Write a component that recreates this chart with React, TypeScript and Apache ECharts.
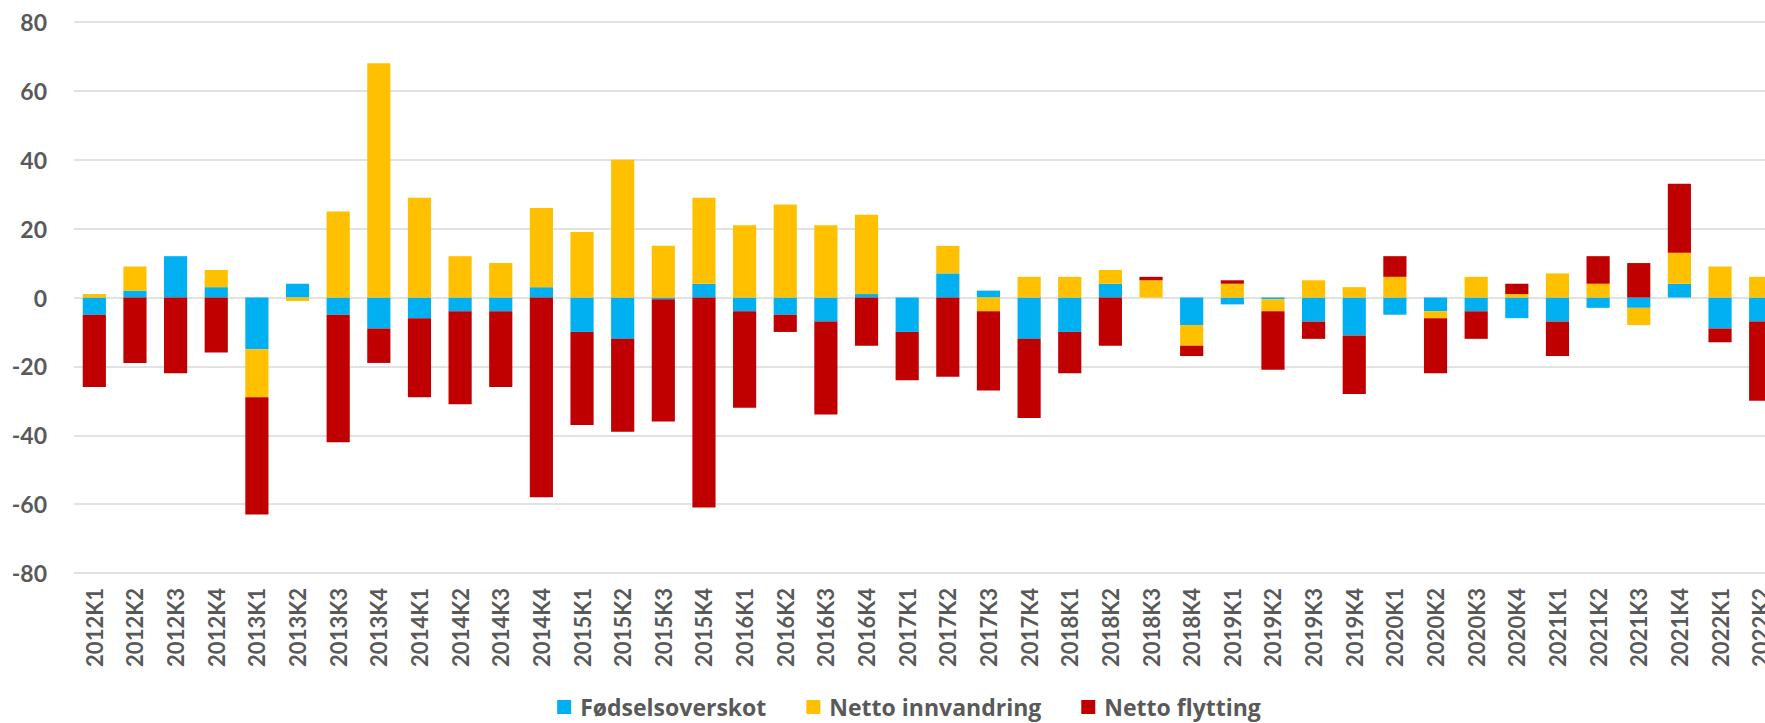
import React, { useEffect, useRef } from "react";
import * as echarts from "echarts";

const categories = [
  "2012K1", "2012K2", "2012K3", "2012K4",
  "2013K1", "2013K2", "2013K3", "2013K4",
  "2014K1", "2014K2", "2014K3", "2014K4",
  "2015K1", "2015K2", "2015K3", "2015K4",
  "2016K1", "2016K2", "2016K3", "2016K4",
  "2017K1", "2017K2", "2017K3", "2017K4",
  "2018K1", "2018K2", "2018K3", "2018K4",
  "2019K1", "2019K2", "2019K3", "2019K4",
  "2020K1", "2020K2", "2020K3", "2020K4",
  "2021K1", "2021K2", "2021K3", "2021K4",
  "2022K1", "2022K2",
];

const fodselsoverskot = [
  -5, 2, 12, 3,
  -15, 4, -5, -9,
  -6, -4, -4, 3,
  -10, -12, -0.5, 4,
  -4, -5, -7, 1,
  -10, 7, 2, -12,
  -10, 4, 0, -8,
  -2, -0.5, -7, -11,
  -5, -4, -4, -6,
  -7, -3, -3, 4,
  -9, -7,
];

const nettoInnvandring = [
  1, 7, 0, 5,
  -14, -1, 25, 68,
  29, 12, 10, 23,
  19, 40, 15, 25,
  21, 27, 21, 23,
  0, 8, -4, 6,
  6, 4, 5, -6,
  4, -3.5, 5, 3,
  6, -2, 6, 1,
  7, 4, -5, 9,
  9, 6,
];

const nettoFlytting = [
  -21, -19, -22, -16,
  -34, 0, -37, -10,
  -23, -27, -22, -58,
  -27, -27, -35.5, -61,
  -28, -5, -27, -14,
  -14, -23, -23, -23,
  -12, -14, 1, -3,
  1, -17, -5, -17,
  6, -16, -8, 3,
  -10, 8, 10, 20,
  -4, -23,
];

const seriesNames = ["Fødselsoverskot", "Netto innvandring", "Netto flytting"];
const seriesColors = ["#00B0F0", "#FFC000", "#C00000"];

const FONT = "Lato, 'Open Sans', sans-serif";
const LEGEND_FONT = "'Open Sans', Lato, sans-serif";
const TEXT_COLOR = "#595959";

export default function App() {
  const ref = useRef<HTMLDivElement>(null);

  useEffect(() => {
    if (!ref.current) return;
    const chart = echarts.init(ref.current, undefined, { renderer: "svg" });
    const values = [fodselsoverskot, nettoInnvandring, nettoFlytting];
    chart.setOption({
      animation: false,
      backgroundColor: "#ffffff",
      grid: { left: 74, right: 37, top: 22, bottom: 150, containLabel: false },
      legend: {
        top: 689,
        left: "center",
        icon: "rect",
        itemWidth: 14,
        itemHeight: 14,
        itemGap: 40,
        textStyle: {
          fontFamily: LEGEND_FONT,
          fontWeight: "bold",
          fontSize: 23,
          lineHeight: 26,
          color: TEXT_COLOR,
          padding: [0, 0, 0, 4],
        },
        data: seriesNames,
      },
      xAxis: {
        type: "category",
        data: categories,
        axisLine: { show: false },
        axisTick: { show: false },
        axisLabel: {
          rotate: 90,
          interval: 0,
          margin: 15,
          fontFamily: FONT,
          fontWeight: "bold",
          fontSize: 22,
          color: TEXT_COLOR,
        },
      },
      yAxis: {
        type: "value",
        min: -80,
        max: 80,
        interval: 20,
        axisLine: { show: false },
        axisTick: { show: false },
        axisLabel: {
          margin: 27,
          fontFamily: FONT,
          fontWeight: "bold",
          fontSize: 23,
          color: TEXT_COLOR,
        },
        splitLine: { lineStyle: { color: "#d9d9d9", width: 1.5 } },
      },
      series: seriesNames.map((name, i) => ({
        name,
        type: "bar",
        stack: "total",
        data: values[i],
        barCategoryGap: "43%",
        itemStyle: { color: seriesColors[i] },
      })),
    });
    return () => chart.dispose();
  }, []);

  return (
    <div
      style={{
        position: "fixed",
        left: 0,
        top: 0,
        width: 1765,
        height: 723,
        overflow: "hidden",
        background: "#ffffff",
      }}
    >
      <div ref={ref} style={{ width: 1818, height: 723 }} />
    </div>
  );
}
